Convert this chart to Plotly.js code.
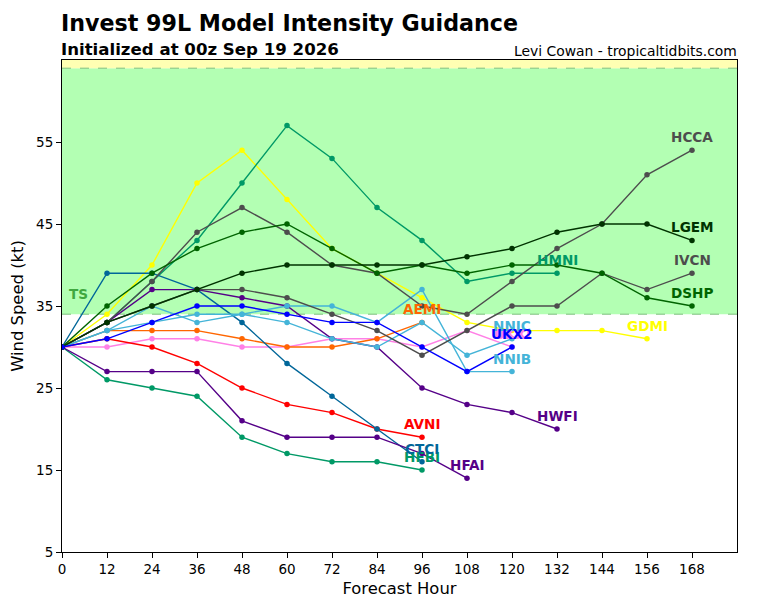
<!DOCTYPE html>
<html><head><meta charset="utf-8">
<script src="https://cdn.plot.ly/plotly-3.0.1.min.js"></script>
<style>html,body{margin:0;padding:0;background:#fff}</style></head>
<body><div id="c" style="width:768px;height:600px"></div>
<script>
const hours=[0,12,24,36,48,60,72,84,96,108,120,132,144,156,168];
const xTicks=[0,12,24,36,48,60,72,84,96,108,120,132,144,156,168];
const yTicks=[5,15,25,35,45,55];
const PINK=[30,30,31,31,30,30,31,31,30,32,30];
const AEMI=[30,32,32,32,31,30,30,31,33];
const AVNI=[30,31,30,28,25,23,22,20,19];
const CTCI=[30,39,39,37,33,28,24,20,16];
const HFBI=[30,26,25,24,19,17,16,16,15];
const HFAI=[30,27,27,27,21,19,19,19,17,14];
const HWFI=[30,33,37,37,36,35,31,30,25,23,22,20];
const HMNI=[30,33,38,43,50,57,53,47,43,38,39,39];
const NNIB=[30,32,35,33,34,35,35,33,37,27,27];
const NNIC=[30,32,33,34,34,33,31,30,33,29,31];
const GDMI=[30,34,40,50,54,48,42,39,36,33,32,32,32,31];
const IVCN=[30,33,35,37,37,36,34,32,29,32,35,35,39,37,39];
const HCCA=[30,33,38,44,47,44,40,39,35,34,38,42,45,51,54];
const DSHP=[30,35,39,42,44,45,42,39,40,39,40,40,39,36,35];
const LGEM=[30,33,35,37,39,40,40,40,40,41,42,44,45,45,43];
const UKX2=[30,31,33,35,35,34,33,33,30,27,30];
const seriesList=[
 ["UKXI",PINK,"#ff80e6"],["AEMI",AEMI,"#ff6600"],["AVNI",AVNI,"#ff0000"],["GDMI",GDMI,"#ffff00"],
 ["HFBI",HFBI,"#009966"],["HMNI",HMNI,"#009966"],["CTCI",CTCI,"#006699"],["HFAI",HFAI,"#550088"],["HWFI",HWFI,"#550088"],
 ["NNIB",NNIB,"#44b4d8"],["NNIC",NNIC,"#44b4d8"],["IVCN",IVCN,"#4d4d4d"],["HCCA",HCCA,"#4d4d4d"],
 ["DSHP",DSHP,"#006400"],["LGEM",LGEM,"#003300"],["UKX2",UKX2,"#0000ff"]];
const data=seriesList.map(([n,v,c])=>({x:hours.slice(0,v.length),y:v,name:n,type:"scatter",mode:"lines+markers",
 line:{color:c,width:1.4},marker:{color:c,size:5.5},hoverinfo:"name+y"}));
const F="DejaVu Sans";
const annotations=seriesList.map(([n,v,c])=>({x:hours[v.length-1],y:v[v.length-1],xref:"x",yref:"y",text:"<b>"+n+"</b>",
 showarrow:false,yshift:13,font:{family:F,size:13.6,color:c}}));
annotations.push({x:4.5,y:36.5,xref:"x",yref:"y",text:"<b>TS</b>",showarrow:false,font:{family:F,size:13.6,color:"#3fa83f"}});
annotations.push({x:0,y:1.0,xref:"paper",yref:"paper",xanchor:"left",yanchor:"bottom",yshift:-1,xshift:-3,text:"<b>Initialized at 00z Sep 19 2026</b>",showarrow:false,font:{family:F,size:16.6,color:"#000"}});
annotations.push({x:1,y:1.0,xref:"paper",yref:"paper",xanchor:"right",yanchor:"bottom",yshift:-1,xshift:2,text:"Levi Cowan - tropicaltidbits.com",showarrow:false,font:{family:F,size:13.9,color:"#000"}});
const layout={width:768,height:600,showlegend:false,paper_bgcolor:"#fff",plot_bgcolor:"#fff",
 margin:{l:62,r:31,t:60,b:48},
 title:{text:"<b>Invest 99L Model Intensity Guidance</b>",x:61/768,xanchor:"left",xref:"container",y:0.962,yanchor:"middle",font:{family:F,size:22.2,color:"#000"}},
 xaxis:{range:[0,180],tickvals:xTicks,ticktext:xTicks.map(String),ticks:"outside",ticklen:5,tickwidth:1,tickcolor:"#000",showgrid:false,zeroline:false,
  showline:true,linecolor:"#000",linewidth:1,mirror:true,tickfont:{family:F,size:13.5,color:"#000"},
  title:{text:"Forecast Hour",font:{family:F,size:16.4,color:"#000"},standoff:6}},
 yaxis:{range:[5,65],tickvals:yTicks,ticktext:yTicks.map(String),ticks:"outside",ticklen:5,tickwidth:1,tickcolor:"#000",showgrid:false,zeroline:false,
  showline:true,linecolor:"#000",linewidth:1,mirror:true,tickfont:{family:F,size:13.5,color:"#000"},
  title:{text:"Wind Speed (kt)",font:{family:F,size:16.4,color:"#000"},standoff:8}},
 shapes:[
  {type:"rect",xref:"paper",x0:0,x1:1,yref:"y",y0:34,y1:64,fillcolor:"#b3ffb3",line:{width:0},layer:"below"},
  {type:"rect",xref:"paper",x0:0,x1:1,yref:"y",y0:64,y1:65,fillcolor:"#ffffb3",line:{width:0},layer:"below"},
  {type:"line",xref:"paper",x0:0,x1:1,yref:"y",y0:34,y1:34,line:{color:"#7fbf7f",width:1,dash:"dash"},layer:"below"},
  {type:"line",xref:"paper",x0:0,x1:1,yref:"y",y0:64,y1:64,line:{color:"#7fbf7f",width:1,dash:"dash"},layer:"below"}],
 annotations};
Plotly.newPlot("c",data,layout,{displayModeBar:false,staticPlot:true});
</script></body></html>
